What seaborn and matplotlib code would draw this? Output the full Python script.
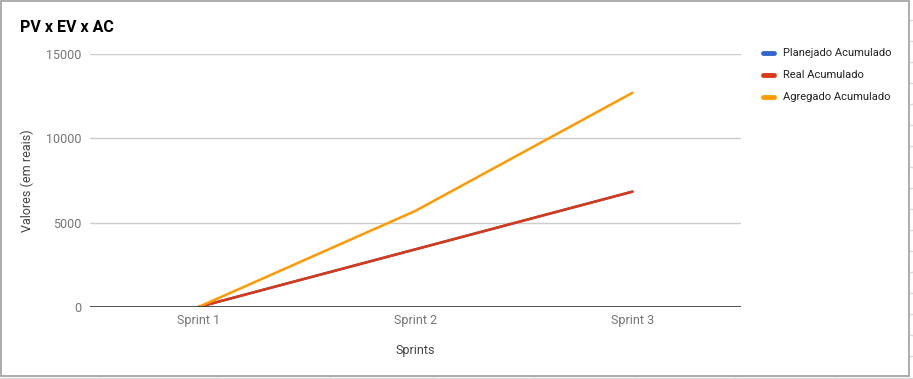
import matplotlib
matplotlib.use("Agg")
import matplotlib.pyplot as plt
import seaborn as sns
import pandas as pd
from matplotlib.patches import Rectangle

sprints = ["Sprint 1", "Sprint 2", "Sprint 3"]
planejado = [0, 3420, 6840]
real = [0, 3420, 6840]
agregado = [0, 5700, 12700]
series_names = ["Planejado Acumulado", "Real Acumulado", "Agregado Acumulado"]
colors = ["#3366cc", "#dc3912", "#ff9900"]
yticks = [0, 5000, 10000, 15000]

df = pd.DataFrame({
    "Sprints": sprints * 3,
    "Valor": planejado + real + agregado,
    "Serie": [series_names[0]] * 3 + [series_names[1]] * 3 + [series_names[2]] * 3,
})

sns.set_theme(style="white")
plt.rcParams["font.family"] = ["Roboto", "DejaVu Sans"]

W, H = 913, 379
fig = plt.figure(figsize=(W / 100, H / 100), dpi=100)
ax = fig.add_axes([90 / W, 1 - 307 / H, (741 - 90) / W, (307 - 54) / H])

sns.lineplot(data=df, x="Sprints", y="Valor", hue="Serie", hue_order=series_names,
             palette=colors, linewidth=1.8, ax=ax, legend=False, sort=False)

ax.set_xlim(-0.5, 2.5)
ax.set_ylim(0, 15000)
ax.set_yticks(yticks)
ax.set_yticklabels([str(v) for v in yticks])
ax.grid(False)
for v in yticks[1:]:
    ax.axhline(v, color="#cccccc", linewidth=1, zorder=0)
ax.axhline(0, color="#333333", linewidth=1.2, zorder=3)
for s in ax.spines.values():
    s.set_visible(False)
ax.tick_params(axis="both", length=0, colors="#757575", labelsize=9)
ax.tick_params(axis="y", pad=6)
ax.tick_params(axis="x", pad=5)
ax.set_xlabel("Sprints", fontsize=9, color="#444444", labelpad=12)
ax.set_ylabel("Valores (em reais)", fontsize=9, color="#444444", labelpad=9)

fig.text(20 / W, 1 - 28 / H, "PV x EV x AC", fontsize=11.5, fontweight="bold",
         color="#000000", va="center", ha="left")

# legend
for i, (name, c) in enumerate(zip(series_names, colors)):
    y = 1 - (53 + 22 * i) / H
    fig.add_artist(plt.Line2D([763 / W, 774 / W], [y, y], color=c, linewidth=3.5,
                              solid_capstyle="round", transform=fig.transFigure))
    fig.text(783 / W, y, name, fontsize=8, color="#222222", va="center", ha="left")

# outer border
fig.add_artist(Rectangle((0.5 / W, 1 - 375.5 / H), 908.5 / W, 375 / H,
                         transform=fig.transFigure, fill=False, edgecolor="#9e9e9e",
                         linewidth=1.2))

# spreadsheet cell lines around the chart
fig.add_artist(plt.Line2D([0, 1], [1 - 377.5 / H, 1 - 377.5 / H], color="#d9d9d9",
                          linewidth=1, transform=fig.transFigure))
for xc in [100, 217, 330, 433, 534, 635, 735, 836]:
    fig.add_artist(plt.Line2D([xc / W, xc / W], [0, 1 - 376.5 / H], color="#d9d9d9",
                              linewidth=1, transform=fig.transFigure))
for yc in range(20, 372, 21):
    fig.add_artist(plt.Line2D([910 / W, 1], [1 - yc / H, 1 - yc / H], color="#d9d9d9",
                              linewidth=1, transform=fig.transFigure))

fig.savefig("out.png", dpi=100)
